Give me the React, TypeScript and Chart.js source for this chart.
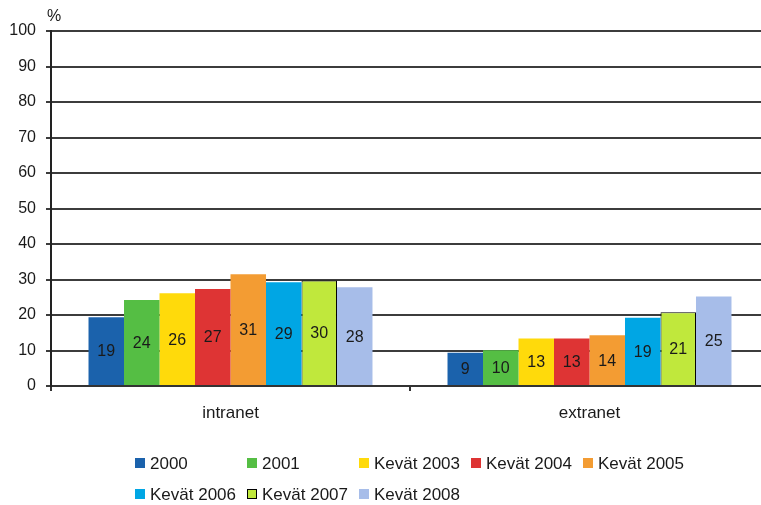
import React, { useEffect, useRef } from "react";
import { Chart, registerables } from "chart.js";

Chart.register(...registerables);

const categories = ["intranet", "extranet"];
const seriesLabels = [
  "2000",
  "2001",
  "Kevät 2003",
  "Kevät 2004",
  "Kevät 2005",
  "Kevät 2006",
  "Kevät 2007",
  "Kevät 2008",
];
const s2000 = [19.4, 9.4];
const s2001 = [24.2, 10.1];
const s2003 = [26.1, 13.4];
const s2004 = [27.3, 13.4];
const s2005 = [31.5, 14.3];
const s2006 = [29.2, 19.2];
const s2007 = [29.7, 20.8];
const s2008 = [27.8, 25.2];
const shownLabels = [
  [19, 9],
  [24, 10],
  [26, 13],
  [27, 13],
  [31, 14],
  [29, 19],
  [30, 21],
  [28, 25],
];
const yTicks = [0, 10, 20, 30, 40, 50, 60, 70, 80, 90, 100];

const seriesValues = [s2000, s2001, s2003, s2004, s2005, s2006, s2007, s2008];
const colors = [
  "#1B62AC",
  "#55BE44",
  "#FFDA0B",
  "#DE3434",
  "#F39C33",
  "#00A6E4",
  "#C0E83C",
  "#A7BDE9",
];
const borders = [null, null, null, null, null, null, "#000000", null];

const FONT = "'Liberation Sans', Arial, sans-serif";
const TEXT = "#1a1a1a";

const dataLabelPlugin = {
  id: "dataLabels",
  afterDatasetsDraw(chart: any) {
    const ctx = chart.ctx;
    ctx.save();
    ctx.font = `16px ${FONT}`;
    ctx.fillStyle = TEXT;
    ctx.textAlign = "center";
    ctx.textBaseline = "middle";
    chart.data.datasets.forEach((ds: any, di: number) => {
      const meta = chart.getDatasetMeta(di);
      meta.data.forEach((el: any, i: number) => {
        const p = el.getProps(["x", "y", "base"], true);
        ctx.fillText(String(shownLabels[di][i]), p.x, (p.y + p.base) / 2 + 1);
      });
    });
    ctx.restore();
  },
};

const customLegendPlugin = {
  id: "customLegend",
  afterDraw(chart: any) {
    const ctx = chart.ctx;
    ctx.save();
    ctx.font = `17px ${FONT}`;
    ctx.textBaseline = "middle";
    ctx.textAlign = "left";
    const perRow = 5;
    const startX = 135;
    const colW = 112;
    const rowY = [463, 494];
    chart.data.datasets.forEach((ds: any, i: number) => {
      const col = i % perRow;
      const row = Math.floor(i / perRow);
      const x = startX + col * colW;
      const y = rowY[row];
      ctx.fillStyle = ds.backgroundColor;
      ctx.fillRect(x, y - 5, 10, 10);
      if (ds.borderWidth) {
        ctx.strokeStyle = "#000";
        ctx.lineWidth = 1;
        ctx.strokeRect(x + 0.5, y - 4.5, 9, 9);
      }
      ctx.fillStyle = TEXT;
      ctx.fillText(ds.label, x + 15, y + 1);
    });
    // % unit label
    ctx.font = `16px ${FONT}`;
    ctx.textAlign = "center";
    ctx.fillText("%", 54, 17);
    ctx.restore();
  },
};

export default function App() {
  const ref = useRef<HTMLCanvasElement>(null);
  useEffect(() => {
    if (!ref.current) return;
    const chart = new Chart(ref.current, {
      type: "bar",
      data: {
        labels: categories,
        datasets: seriesLabels.map((label, i) => ({
          label,
          data: seriesValues[i],
          backgroundColor: colors[i],
          borderColor: borders[i] || colors[i],
          borderWidth: borders[i] ? 1 : 0,
          categoryPercentage: 0.791,
          barPercentage: 1,
        })),
      },
      options: {
        animation: false,
        responsive: false,
        devicePixelRatio: 1,
        layout: { padding: { left: 0, top: 31, right: 7, bottom: 0 } },
        plugins: {
          legend: { display: false },
          tooltip: { enabled: false },
          title: { display: false },
        },
        scales: {
          x: {
            offset: true,
            grid: {
              display: true,
              offset: true,
              drawOnChartArea: false,
              drawTicks: true,
              tickLength: 5,
              color: "#333",
              lineWidth: 2,
            },
            border: { display: true, color: "#333", width: 2 },
            ticks: {
              font: { family: FONT, size: 17 },
              color: TEXT,
              padding: 12,
            },
            afterFit(s: any) {
              s.height = 119;
            },
          },
          y: {
            min: 0,
            max: 100,
            afterBuildTicks(s: any) {
              s.ticks = yTicks.map((v) => ({ value: v }));
            },
            grid: {
              color: "#3c3c3c",
              lineWidth: 2,
              drawTicks: true,
              tickLength: 5,
            },
            border: { display: true, color: "#222", width: 2 },
            ticks: {
              font: { family: FONT, size: 16 },
              color: TEXT,
              padding: 10,
            },
            afterFit(s: any) {
              s.width = 51;
            },
          },
        },
      },
      plugins: [dataLabelPlugin, customLegendPlugin],
    });
    return () => chart.destroy();
  }, []);
  return (
    <div
      style={{
        position: "fixed",
        left: 0,
        top: 0,
        width: 761,
        height: 505,
        overflow: "hidden",
        background: "#fff",
      }}
    >
      <canvas ref={ref} width={776} height={505} style={{ display: "block" }} />
    </div>
  );
}
